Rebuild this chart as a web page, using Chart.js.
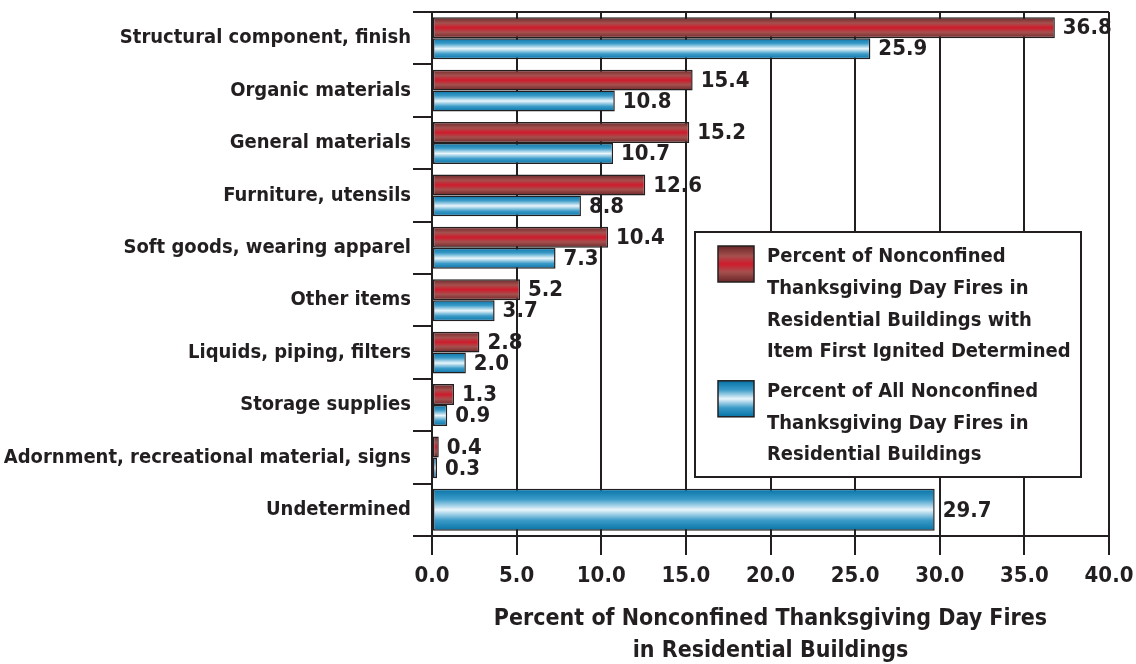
<!DOCTYPE html>
<html>
<head>
<meta charset="utf-8">
<script src="https://cdn.jsdelivr.net/npm/chart.js@4.4.1/dist/chart.umd.min.js"></script>
<style>
  html, body { margin: 0; padding: 0; background: #fff; }
  #wrap { width: 1136px; height: 664px; }
</style>
</head>
<body>
<div id="wrap"><canvas id="chart"></canvas></div>
<script>
// values
const categories = [
  'Structural component, finish',
  'Organic materials',
  'General materials',
  'Furniture, utensils',
  'Soft goods, wearing apparel',
  'Other items',
  'Liquids, piping, filters',
  'Storage supplies',
  'Adornment, recreational material, signs',
  'Undetermined'
]
const determinedPct = [36.8, 15.4, 15.2, 12.6, 10.4, 5.2, 2.8, 1.3, 0.4, null]
const allPct = [25.9, 10.8, 10.7, 8.8, 7.3, 3.7, 2.0, 0.9, 0.3, 29.7]
const seriesNames = [
  ['Percent of Nonconfined', 'Thanksgiving Day Fires in', 'Residential Buildings with', 'Item First Ignited Determined'],
  ['Percent of All Nonconfined', 'Thanksgiving Day Fires in', 'Residential Buildings']
]
const axisTitle = ['Percent of Nonconfined Thanksgiving Day Fires', 'in Residential Buildings']

const FONT = "'DejaVu Sans Condensed', 'Liberation Sans Narrow', sans-serif"
const INK = '#231f20'

const redStops = [[0, '#6a2628'], [0.28, '#a5504e'], [0.5, '#cf1b2c'], [0.72, '#a5504e'], [1, '#6a2628']]
const blueStops = [[0, '#0672a6'], [0.25, '#3b9bc8'], [0.5, '#e9f6fc'], [0.75, '#3b9bc8'], [1, '#0672a6']]
const stopSets = [redStops, blueStops]

function makeGradient(ctx, top, bottom, stops) {
  const g = ctx.createLinearGradient(0, top, 0, bottom)
  for (const s of stops) g.addColorStop(s[0], s[1])
  return g
}

// give each bar its own vertical gradient, from the element's position
const gradientBars = {
  id: 'gradientBars',
  beforeDatasetsDraw(chart) {
    const ctx = chart.ctx
    chart.data.datasets.forEach((ds, i) => {
      chart.getDatasetMeta(i).data.forEach(el => {
        const h = el.height
        const g = makeGradient(ctx, el.y - h / 2, el.y + h / 2, stopSets[i])
        el.options = Object.assign({}, el.options, {backgroundColor: g})
      })
    })
  }
}

const valueLabels = {
  id: 'valueLabels',
  afterDatasetsDraw(chart) {
    const ctx = chart.ctx
    ctx.save()
    ctx.font = `bold 22px ${FONT}`
    ctx.fillStyle = INK
    ctx.textAlign = 'left'
    ctx.textBaseline = 'middle'
    chart.data.datasets.forEach((ds, i) => {
      chart.getDatasetMeta(i).data.forEach((el, j) => {
        const v = ds.data[j]
        if (v === null) return
        ctx.fillText(v.toFixed(1), el.x + 8, el.y + 1)
      })
    })
    ctx.restore()
  }
}

const boxLegend = {
  id: 'boxLegend',
  afterDraw(chart) {
    const ctx = chart.ctx
    const a = chart.chartArea
    const left = a.left + 263
    const top = a.top + 220
    const w = 386
    const h = 245
    ctx.save()
    ctx.fillStyle = '#fff'
    ctx.fillRect(left, top, w, h)
    ctx.lineWidth = 2
    ctx.strokeStyle = INK
    ctx.strokeRect(left, top, w, h)
    ctx.font = `bold 20px ${FONT}`
    ctx.textBaseline = 'middle'
    const lineH = 31.7
    let y = top + 25
    seriesNames.forEach((lines, i) => {
      const sy = y - 11
      ctx.fillStyle = makeGradient(ctx, sy, sy + 36, stopSets[i])
      ctx.fillRect(left + 23, sy, 36, 36)
      ctx.lineWidth = 1.5
      ctx.strokeRect(left + 23, sy, 36, 36)
      ctx.fillStyle = INK
      lines.forEach((t, k) => ctx.fillText(t, left + 72, y + k * lineH))
      y += lines.length * lineH + 8
    })
    ctx.restore()
  }
}

new Chart(document.getElementById('chart'), {
  type: 'bar',
  data: {
    labels: categories,
    datasets: [
      {label: seriesNames[0].join(' '), data: determinedPct, backgroundColor: '#a5504e', borderColor: INK},
      {label: seriesNames[1].join(' '), data: allPct, backgroundColor: '#3b9bc8', borderColor: INK}
    ]
  },
  options: {
    indexAxis: 'y',
    responsive: true,
    maintainAspectRatio: false,
    animation: false,
    events: [],
    layout: {padding: {top: 12, right: 0, left: 0, bottom: 0}},
    datasets: {
      bar: {
        skipNull: true,
        categoryPercentage: 0.8,
        barPercentage: 1,
        borderWidth: 1.5,
        borderSkipped: false
      }
    },
    plugins: {
      colors: {enabled: false},
      legend: {display: false},
      tooltip: {enabled: false}
    },
    scales: {
      x: {
        min: 0,
        max: 40,
        afterFit(scale) {
          scale.height = 128
          scale.paddingRight = 27
        },
        ticks: {
          stepSize: 5,
          padding: 8,
          color: INK,
          font: {family: FONT, size: 22, weight: 'bold'},
          callback: v => v.toFixed(1)
        },
        grid: {color: INK, lineWidth: 2, tickLength: 19, tickColor: INK},
        border: {color: INK, width: 2},
        title: {
          display: true,
          text: axisTitle,
          color: INK,
          padding: {top: 0, bottom: -3},
          font: {family: FONT, size: 23, weight: 'bold', lineHeight: 1.39}
        }
      },
      y: {
        afterFit(scale) {
          scale.width = 432
          scale.paddingTop = 0
          scale.paddingBottom = 0
        },
        ticks: {
          padding: 2,
          color: INK,
          font: {family: FONT, size: 20, weight: 'bold'}
        },
        grid: {
          offset: true,
          color: c => c.index === 0 ? INK : 'transparent',
          tickColor: INK,
          lineWidth: 2,
          tickLength: 19
        },
        border: {color: INK, width: 2}
      }
    }
  },
  plugins: [gradientBars, valueLabels, boxLegend]
})
</script>
</body>
</html>
